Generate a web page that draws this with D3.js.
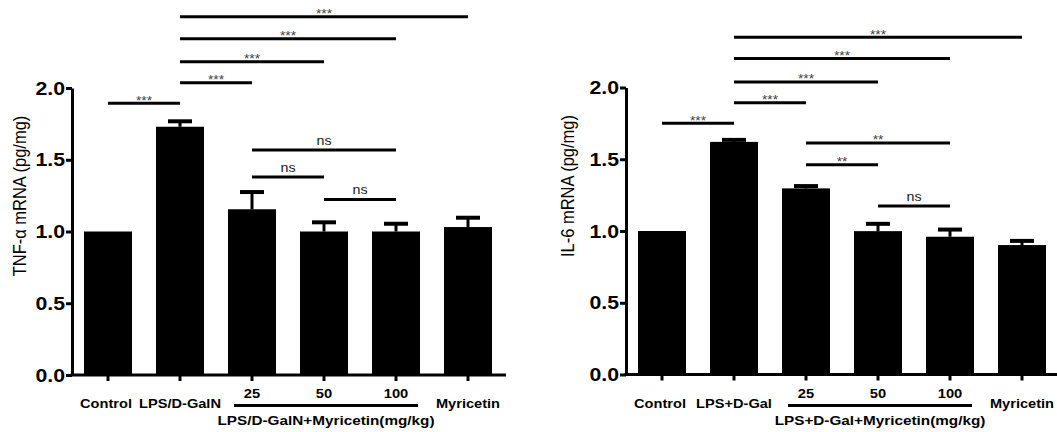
<!DOCTYPE html>
<html>
<head>
<meta charset="utf-8">
<script src="https://cdn.jsdelivr.net/npm/d3@7"></script>
<style>
  body { margin: 0; background: #fff; }
  svg { display: block; font-family: "Liberation Sans", Arial, sans-serif; }
</style>
</head>
<body>
<svg id="chart" width="1057" height="432"></svg>
<script>
// groups on the x axis (same for both panels, only labels differ)
const groups = ["control", "lps", "d25", "d50", "d100", "myr"];
const doseLabels = { d25: "25", d50: "50", d100: "100" };

// left panel: TNF-a
const tnfLabels = ["Control", "LPS/D-GalN", "", "", "", "Myricetin"];
const tnfMeans = [1.0, 1.73, 1.155, 1.0, 1.0, 1.031];
const tnfErr = [1.0, 1.768, 1.275, 1.064, 1.054, 1.096];
const tnfSig = [
  ["control", "lps", 1.893, "***"],
  ["lps", "d25", 2.037, "***"],
  ["lps", "d50", 2.183, "***"],
  ["lps", "d100", 2.343, "***"],
  ["lps", "myr", 2.497, "***"],
  ["d25", "d100", 1.568, "ns"],
  ["d25", "d50", 1.38, "ns"],
  ["d50", "d100", 1.223, "ns"]
];

// right panel: IL-6
const il6Labels = ["Control", "LPS+D-Gal", "", "", "", "Myricetin"];
const il6Means = [1.0, 1.621, 1.297, 0.999, 0.96, 0.902];
const il6Err = [1.0, 1.635, 1.313, 1.05, 1.01, 0.931];
const il6Sig = [
  ["control", "lps", 1.751, "***"],
  ["lps", "d25", 1.893, "***"],
  ["lps", "d50", 2.039, "***"],
  ["lps", "d100", 2.202, "***"],
  ["lps", "myr", 2.35, "***"],
  ["d25", "d100", 1.614, "**"],
  ["d25", "d50", 1.461, "**"],
  ["d50", "d100", 1.175, "ns"]
];

const yTicks = [0, 0.5, 1.0, 1.5, 2.0];
const SX = 1.15; // the figure is slightly stretched horizontally

const svg = d3.select("#chart");

function txt(parent, x, y, str, size, weight, anchor, rotate) {
  const g = parent.append("g")
    .attr("transform", "translate(" + x + "," + y + ") scale(" + SX + ",1)");
  return g.append("text")
    .attr("transform", rotate ? "rotate(" + rotate + ")" : null)
    .attr("text-anchor", anchor || "middle")
    .style("font-size", size + "px")
    .style("font-weight", weight || "normal")
    .text(str);
}

function drawPanel(opt) {
  const g = svg.append("g");
  const y = d3.scaleLinear().domain([0, 2]).range([opt.y0, opt.y0 - 287]);
  const x = d3.scaleBand().domain(groups).range([opt.left, opt.left + 432]).paddingInner(1 / 3).paddingOuter(1 / 6);
  const bw = x.bandwidth();
  const cx = k => x(k) + bw / 2;

  // bars
  g.selectAll("rect.bar").data(groups).enter().append("rect")
    .attr("class", "bar")
    .attr("x", d => x(d))
    .attr("width", bw)
    .attr("y", (d, i) => y(opt.means[i]))
    .attr("height", (d, i) => y(0) - y(opt.means[i]))
    .attr("fill", "#000");

  // error bars (upper only)
  groups.forEach((k, i) => {
    if (opt.err[i] <= opt.means[i]) return;
    g.append("line")
      .attr("x1", cx(k)).attr("x2", cx(k))
      .attr("y1", y(opt.means[i])).attr("y2", y(opt.err[i]))
      .attr("stroke", "#000").attr("stroke-width", 3);
    g.append("line")
      .attr("x1", cx(k) - 12).attr("x2", cx(k) + 12)
      .attr("y1", y(opt.err[i])).attr("y2", y(opt.err[i]))
      .attr("stroke", "#000").attr("stroke-width", 4);
  });

  // y axis
  const ya = g.append("g")
    .attr("transform", "translate(" + opt.left + ",0)")
    .call(d3.axisLeft(y).tickValues(yTicks).tickSize(6).tickSizeOuter(0).tickFormat(d3.format(".1f")));
  ya.select(".domain").attr("stroke-width", 3);
  ya.selectAll(".tick line").attr("stroke-width", 3);
  ya.selectAll(".tick text").remove();
  yTicks.forEach(v => {
    txt(g, opt.left - 7, y(v) + 6.5, d3.format(".1f")(v), 18.5, "bold", "end");
  });

  // x axis
  const xa = g.append("g")
    .attr("transform", "translate(0," + opt.y0 + ")")
    .call(d3.axisBottom(x).tickSize(6).tickSizeOuter(0).tickFormat(""));
  xa.select(".domain").attr("d", "M" + (opt.left - 1.5) + ",0H" + (opt.left + 434)).attr("stroke-width", 3);
  xa.selectAll(".tick line").attr("stroke-width", 3);

  groups.forEach((k, i) => {
    if (opt.labels[i]) txt(g, cx(k) + (i === 0 ? -2 : 0), 408, opt.labels[i], 12.7, "bold");
    if (doseLabels[k]) txt(g, cx(k), 398, doseLabels[k], 12.8, "bold");
  });
  const ux1 = cx("d25") - 18, ux2 = cx("d100") + 22;
  g.append("line")
    .attr("x1", ux1).attr("x2", ux2).attr("y1", 405.5).attr("y2", 405.5)
    .attr("stroke", "#000").attr("stroke-width", 3);
  txt(g, (ux1 + ux2) / 2, 425, opt.sub, 13.3, "bold");

  // y title
  txt(g, opt.left - opt.titleDx, opt.titleY, opt.title, 16.5, "normal", "middle", -90);

  // significance brackets
  opt.sig.forEach(s => {
    const ly = y(s[2]);
    g.append("line")
      .attr("x1", cx(s[0])).attr("x2", cx(s[1]))
      .attr("y1", ly).attr("y2", ly)
      .attr("stroke", "#000").attr("stroke-width", 3);
    if (s[3] === "ns") {
      txt(g, (cx(s[0]) + cx(s[1])) / 2, ly - 5, "ns", 12.4, "normal").attr("fill", "#222");
    } else {
      txt(g, (cx(s[0]) + cx(s[1])) / 2, ly + 1.5, s[3], 12, "normal").attr("fill", "#444");
    }
  });
}

drawPanel({
  left: 72, y0: 375, labels: tnfLabels, means: tnfMeans, err: tnfErr, sig: tnfSig,
  title: "TNF-\u03b1 mRNA (pg/mg)", sub: "LPS/D-GalN+Myricetin(mg/kg)", titleDx: 46, titleY: 196
});
drawPanel({
  left: 626, y0: 374.5, labels: il6Labels, means: il6Means, err: il6Err, sig: il6Sig,
  title: "IL-6 mRNA (pg/mg)", sub: "LPS+D-Gal+Myricetin(mg/kg)", titleDx: 52, titleY: 186
});
</script>
</body>
</html>
